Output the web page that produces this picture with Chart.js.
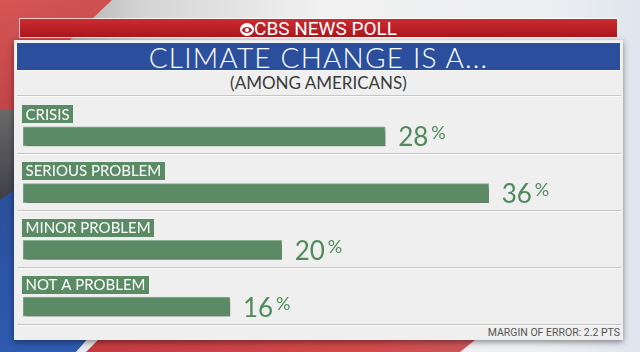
<!DOCTYPE html>
<html>
<head>
<meta charset="utf-8">
<script src="https://cdn.jsdelivr.net/npm/chart.js@4.4.0/dist/chart.umd.min.js"></script>
<style>
  html, body { margin: 0; padding: 0; }
  body {
    width: 640px; height: 352px; position: relative; overflow: hidden;
    background: linear-gradient(90deg, #8f8f8f 0%, #d4d4d4 22%, #f1f1f1 50%, #eeeff1 85%, #dfe5ee 100%);
    font-family: Lato, sans-serif;
  }
  .bg { position: absolute; }
  #swoosh { left: 0; top: 0; width: 130px; height: 130px; background: linear-gradient(160deg, #d65656, #b43a3d);
    clip-path: polygon(0 0, 112px 0, 70px 40px, 30px 85px, 14px 110px, 0 125px); }
  #leftGrey { left: 0; top: 110px; width: 14px; height: 100px; background: linear-gradient(#6a6a6a, #3a3a44); }
  #leftBlue { left: 0; top: 190px; width: 100px; height: 162px; background: linear-gradient(#2a4f9a, #2f5ab0);
    clip-path: polygon(0 10px, 14px 0, 14px 150px, 88px 150px, 76px 162px, 0 162px); }
  #botRed { left: 80px; top: 336px; width: 420px; height: 16px; background: linear-gradient(90deg, #c43b3f, #d24a4c 70%, #c95a5e);
    clip-path: polygon(22px 0, 400px 0, 380px 16px, 0 16px); }
  #botWhite { left: 76px; top: 336px; width: 30px; height: 16px; background: #e8e8ec;
    clip-path: polygon(14px 0, 26px 0, 10px 16px, 0 16px); }
  #panel { left: 14px; top: 40px; width: 609px; height: 300px; background: #efefef;
    box-shadow: 0 2px 6px rgba(0,0,0,0.45); }
  #redBand { left: 20px; top: 19px; width: 597px; height: 18px; background: linear-gradient(#cc2b31, #a9161c);
    outline: 1px solid rgba(255,255,255,0.7); color: #fff; text-align: center;
    font: 19px "Liberation Sans Narrow", "Roboto", sans-serif; line-height: 19px; }
  .eye { display: inline-block; width: 14px; height: 13px; background: #fff; border-radius: 50%;
    position: relative; top: 1px; margin-right: 0px; }
  .eye .lid { position: absolute; left: 2px; top: 3.5px; width: 10px; height: 6px; background: #b81f25; border-radius: 50%; }
  .eye .pupil { position: absolute; left: 5px; top: 4.5px; width: 4px; height: 4px; background: #fff; border-radius: 50%; }
  #blueBand { left: 17px; top: 43px; width: 603px; height: 27px; background: #2c4f9d;
    outline: 1px solid rgba(255,255,255,0.5); color: #fff; text-align: center;
    font: 300 28px Lato, sans-serif; line-height: 28px; letter-spacing: 1.2px; }
  #subtitle { left: 17px; top: 73px; width: 603px; text-align: center; color: #3a3a3a;
    font: 17px Lato, sans-serif; line-height: 20px; }
  #topRule { left: 17px; top: 95px; width: 604px; height: 1px; background: #c6c6c6; border-bottom: 1px solid #fbfbfb; }
  #moe { right: 20px; top: 327px; color: #555; font: 10.5px "Liberation Sans Narrow", "Roboto", sans-serif; line-height: 12px; }
  canvas { position: absolute; left: 0; top: 0; }
</style>
</head>
<body>
<div class="bg" id="swoosh"></div>
<div class="bg" id="leftGrey"></div>
<div class="bg" id="leftBlue"></div>
<div class="bg" id="botRed"></div>
<div class="bg" id="botWhite"></div>
<div class="bg" id="panel"></div>
<div class="bg" id="redBand"><span class="eye"><span class="lid"></span><span class="pupil"></span></span>CBS NEWS POLL</div>
<div class="bg" id="blueBand">CLIMATE CHANGE IS A...</div>
<div class="bg" id="subtitle">(AMONG AMERICANS)</div>
<div class="bg" id="topRule"></div>
<div class="bg" id="moe">MARGIN OF ERROR: 2.2 PTS</div>
<canvas id="chart-climate" width="640" height="352"></canvas>
<script>
const categories = ['CRISIS', 'SERIOUS PROBLEM', 'MINOR PROBLEM', 'NOT A PROBLEM'];
const shares = [28, 36, 20, 16];

const BAR_GREEN = '#5a8b64';
const TEXT_GREEN = '#4f8a5b';

// separators + green label tags above each bar
const rowDecor = {
  id: 'rowDecor',
  beforeDatasetsDraw(chart) {
    const { ctx } = chart;
    const meta = chart.getDatasetMeta(0);
    ctx.save();
    meta.data.forEach((bar, i) => {
      const y = Math.round(bar.y + 17) + 0.5;
      ctx.lineWidth = 1;
      ctx.strokeStyle = '#c6c6c6';
      ctx.beginPath(); ctx.moveTo(17, y); ctx.lineTo(621, y); ctx.stroke();
      ctx.strokeStyle = '#fbfbfb';
      ctx.beginPath(); ctx.moveTo(17, y + 1); ctx.lineTo(621, y + 1); ctx.stroke();

      ctx.font = '15px Lato, sans-serif';
      const w = ctx.measureText(categories[i]).width;
      ctx.fillStyle = BAR_GREEN;
      ctx.fillRect(22, Math.round(bar.y - 31), Math.round(w + 7), 18);
      ctx.fillStyle = '#ffffff';
      ctx.textBaseline = 'middle';
      ctx.fillText(categories[i], 25.5, bar.y - 21.5);
    });
    ctx.restore();
  }
};

const barShadow = {
  id: 'barShadow',
  beforeDatasetDraw(chart) {
    const { ctx } = chart;
    ctx.save();
    ctx.shadowColor = 'rgba(0,0,0,0.35)';
    ctx.shadowBlur = 4;
    ctx.shadowOffsetX = 2;
    ctx.shadowOffsetY = 3;
  },
  afterDatasetDraw(chart) {
    chart.ctx.restore();
  }
};

const valueLabels = {
  id: 'valueLabels',
  afterDatasetsDraw(chart) {
    const { ctx } = chart;
    const meta = chart.getDatasetMeta(0);
    ctx.save();
    ctx.fillStyle = TEXT_GREEN;
    ctx.textBaseline = 'alphabetic';
    meta.data.forEach((bar, i) => {
      const txt = String(shares[i]);
      ctx.font = '26px Lato, sans-serif';
      const x = bar.x + 13;
      ctx.fillText(txt, x, bar.y + 10);
      const w = ctx.measureText(txt).width;
      ctx.font = '18px Lato, sans-serif';
      ctx.fillText('%', x + w + 3, bar.y + 3);
    });
    ctx.restore();
  }
};

new Chart(document.getElementById('chart-climate'), {
  type: 'bar',
  data: {
    labels: categories,
    datasets: [{
      data: shares,
      backgroundColor: BAR_GREEN,
      borderColor: '#8fb097',
      borderWidth: 1,
      borderSkipped: false,
      barThickness: 19
    }]
  },
  options: {
    indexAxis: 'y',
    responsive: false,
    animation: false,
    events: [],
    layout: { padding: { left: 23, right: 22, top: 108, bottom: 17 } },
    scales: {
      x: { display: false, min: 0, max: 46 },
      y: { display: false }
    },
    plugins: {
      legend: { display: false },
      tooltip: { enabled: false }
    }
  },
  plugins: [rowDecor, barShadow, valueLabels]
});
</script>
</body>
</html>
